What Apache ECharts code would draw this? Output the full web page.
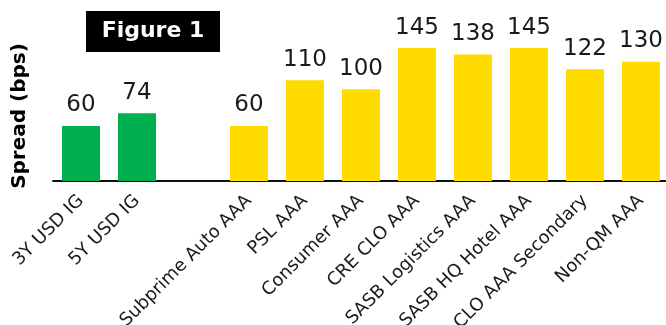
<!DOCTYPE html>
<html>
<head>
<meta charset="utf-8">
<script src="https://cdn.jsdelivr.net/npm/echarts@6/dist/echarts.min.js"></script>
<style>
html,body{margin:0;padding:0;background:#fff;}
#chart{width:666px;height:325px;}
</style>
</head>
<body>
<div id="chart"></div>
<script>
// Data
const categories = ['3Y USD IG', '5Y USD IG', '', 'Subprime Auto AAA', 'PSL AAA', 'Consumer AAA', 'CRE CLO AAA', 'SASB Logistics AAA', 'SASB HQ Hotel AAA', 'CLO AAA Secondary', 'Non-QM AAA'];
const spreads = [60, 74, null, 60, 110, 100, 145, 138, 145, 122, 130];
const groups = ['IG', 'IG', '', 'AAA', 'AAA', 'AAA', 'AAA', 'AAA', 'AAA', 'AAA', 'AAA'];
const titleText = 'Figure 1';
const yName = 'Spread (bps)';

const groupColors = { IG: '#00b050', AAA: '#ffdb00' };
const FONT = 'DejaVu Sans';

const chart = echarts.init(document.getElementById('chart'), null, { renderer: 'canvas' });
const axisY = 181;
const pxPerUnit = 0.917;
const yMax = 160;
const gridHeight = yMax * pxPerUnit;

chart.setOption({
  animation: false,
  backgroundColor: '#ffffff',
  grid: { left: 53, width: 616, top: axisY - gridHeight, height: gridHeight, containLabel: false, outerBoundsMode: 'none' },
  xAxis: {
    type: 'category',
    data: categories,
    axisLine: { show: true, lineStyle: { color: '#111', width: 2 } },
    axisTick: { show: false },
    axisLabel: { interval: 0, rotate: 45, margin: 17, fontFamily: FONT, fontSize: 18, color: '#1a1a1a' }
  },
  yAxis: {
    type: 'value', min: 0, max: yMax,
    show: false
  },
  series: [{
    type: 'bar',
    data: spreads,
    barWidth: 38,
    itemStyle: { color: p => groupColors[groups[p.dataIndex]] || '#ccc' },
    label: { show: true, position: 'top', distance: 9, fontFamily: FONT, fontSize: 23, color: '#1a1a1a' }
  }],
  graphic: [
    { type: 'rect', left: 86, top: 11, shape: { width: 134, height: 41 }, style: { fill: '#000' } },
    { type: 'text', x: 153, y: 31.5, style: { text: titleText, fill: '#fff', font: 'bold 22px "DejaVu Sans"', textAlign: 'center', textVerticalAlign: 'middle' } },
    { type: 'text', x: 20, y: 116, rotation: Math.PI / 2, style: { text: yName, fill: '#000', font: 'bold 20px "DejaVu Sans"', textAlign: 'center', textVerticalAlign: 'middle' } }
  ]
});
</script>
</body>
</html>
